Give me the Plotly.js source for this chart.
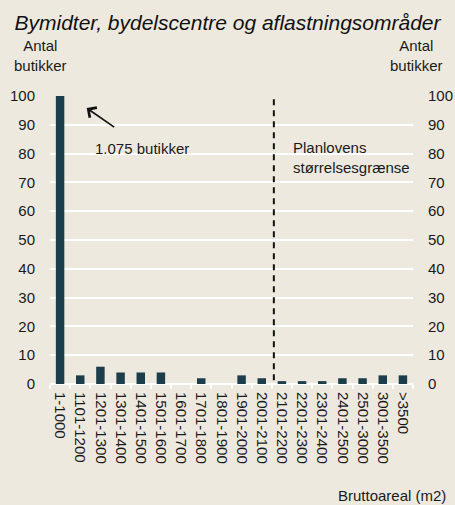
<!DOCTYPE html>
<html><head><meta charset="utf-8">
<script src="https://cdn.plot.ly/plotly-3.0.1.min.js"></script>
<style>body{margin:0;background:#EEE9DF}#c{width:455px;height:505px}</style>
</head><body><div id="c"></div>
<script>
const categories = ["1-1000","1101-1200","1201-1300","1301-1400","1401-1500","1501-1600","1601-1700","1701-1800","1801-1900","1901-2000","2001-2100","2101-2200","2201-2300","2301-2400","2401-2500","2501-3000","3001-3500",">3500"];
const butikker = [1075,3,6,4,4,4,0,2,0,3,2,1,1,1,2,2,3,3];
const yTicks = [0,10,20,30,40,50,60,70,80,90,100];
const font = {family:"Liberation Sans, Arial, sans-serif", size:15, color:"#1a1a1a"};
const bg = "#EEE9DF";
const traces = [
 {type:"bar", x:categories, y:butikker, marker:{color:"#1C3D4A"}, cliponaxis:true, hoverinfo:"none"},
 {type:"scatter", x:categories, y:butikker.map(()=>null), yaxis:"y2", mode:"markers", showlegend:false, hoverinfo:"none"}
];
const layout = {
 width:455, height:505, paper_bgcolor:bg, plot_bgcolor:bg, font:font, showlegend:false,
 margin:{l:50, r:42, t:96, b:121},
 bargap:0.58,
 title:{text:"<i>Bymidter, bydelscentre og aflastningsområder</i>", font:{size:21, color:"#111"}, x:0.5, xanchor:"center", y:0.956, yanchor:"middle"},
 xaxis:{type:"category", tickangle:90, showgrid:false, showline:false, zeroline:false,
   ticks:"outside", tickson:"boundaries", ticklen:4, tickwidth:2, tickcolor:"#ffffff", tickfont:{size:15}, ticklabelstandoff:7,
   range:[-0.5,17.5]},
 yaxis:{range:[0,100], tickvals:yTicks, showgrid:true, gridcolor:"#ffffff", gridwidth:2, zeroline:true, zerolinecolor:"#ffffff", zerolinewidth:2,
   showline:false, ticks:"", ticklabelstandoff:14, tickfont:{size:15}, fixedrange:true},
 yaxis2:{range:[0,100], tickvals:yTicks, overlaying:"y", side:"right", showgrid:false, zeroline:false, showline:false, ticks:"", ticklabelstandoff:14, tickfont:{size:15}},
 shapes:[
  {type:"line", xref:"x", yref:"y", x0:10.6, x1:10.6, y0:1.3, y1:100, line:{color:"#111", width:2, dash:"6px,5px"}}
 ],
 annotations:[
  {xref:"paper", yref:"paper", x:-0.025, y:1.07, text:"Antal<br>butikker", showarrow:false, xanchor:"center", yanchor:"bottom", font:{size:15}},
  {xref:"paper", yref:"paper", x:1.0096, y:1.07, text:"Antal<br>butikker", showarrow:false, xanchor:"center", yanchor:"bottom", font:{size:15}},
  {xref:"x", yref:"y", x:1.63, y:81.9, text:"1.075 butikker", showarrow:false, xanchor:"left", yanchor:"middle", font:{size:15}},
  {xref:"x", yref:"y", x:1.32, y:95.8, ax:29, ay:20, text:"", showarrow:true, arrowhead:4, arrowsize:1.5, arrowwidth:1.6, arrowcolor:"#111"},
  {xref:"x", yref:"y", x:11.43, y:78.8, text:"Planlovens<br>størrelsesgrænse", showarrow:false, xanchor:"left", yanchor:"middle", align:"left", font:{size:15}},
  {xref:"paper", yref:"paper", x:1.0964, y:-0.386, text:"Bruttoareal (m2)", showarrow:false, xanchor:"right", yanchor:"middle", font:{size:15}}
 ]
};
Plotly.newPlot("c", traces, layout, {displayModeBar:false, staticPlot:true});
</script></body></html>
